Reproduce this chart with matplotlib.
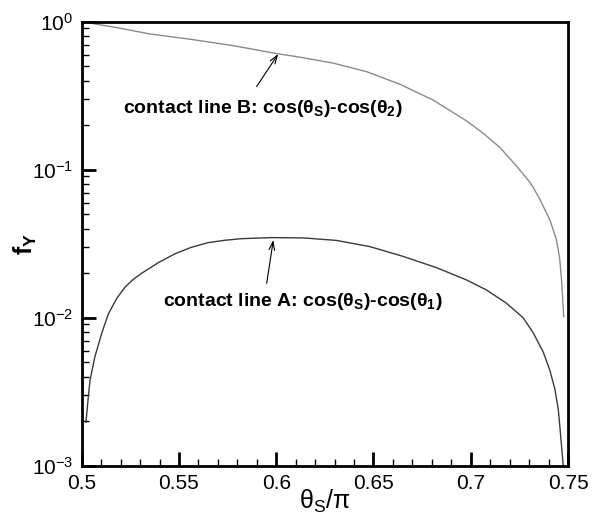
import matplotlib
matplotlib.use("Agg")
import matplotlib.pyplot as plt
import numpy as np
from matplotlib.ticker import FixedLocator, LogLocator, NullFormatter, FixedFormatter

plt.rcParams['font.family'] = ['Liberation Sans', 'DejaVu Sans']
plt.rcParams['mathtext.fontset'] = 'custom'
plt.rcParams['mathtext.rm'] = 'Liberation Sans'
plt.rcParams['mathtext.it'] = 'Liberation Sans:italic'
plt.rcParams['mathtext.bf'] = 'Liberation Sans:bold'

# Curve A: contact line A (x = theta_S/pi, log10 f_Y)
xA = [0.5022, 0.5034, 0.5043, 0.5068, 0.5103, 0.5137, 0.518, 0.5222, 0.5265, 0.5308,
      0.5394, 0.548, 0.5565, 0.565, 0.5736, 0.5822, 0.5976, 0.6139, 0.631, 0.6482,
      0.665, 0.6824, 0.6978, 0.7081, 0.7184, 0.7269, 0.732, 0.7372, 0.7406, 0.7432,
      0.745, 0.7461, 0.7475]
logA = [-2.707, -2.534, -2.421, -2.263, -2.105, -1.975, -1.87, -1.795, -1.741, -1.70,
        -1.628, -1.568, -1.524, -1.493, -1.477, -1.466, -1.459, -1.461, -1.478, -1.52,
        -1.585, -1.662, -1.745, -1.813, -1.903, -2.0, -2.1, -2.23, -2.353, -2.48,
        -2.62, -2.78, -2.995]
# Curve B: contact line B
xB = [0.5, 0.5179, 0.5351, 0.5565, 0.5779, 0.600, 0.6122, 0.6293, 0.6465, 0.6636,
      0.6807, 0.6978, 0.7064, 0.715, 0.7235, 0.7304, 0.7321, 0.7355, 0.7407, 0.7441,
      0.7457, 0.7467, 0.7478]
logB = [0.0, -0.04, -0.083, -0.12, -0.162, -0.215, -0.24, -0.28, -0.338, -0.423,
        -0.53, -0.67, -0.754, -0.85, -0.975, -1.085, -1.12, -1.2, -1.34, -1.475,
        -1.6, -1.75, -1.993]

yA = [10 ** v for v in logA]
yB = [10 ** v for v in logB]

xticks = [0.5, 0.55, 0.6, 0.65, 0.7, 0.75]
xticklabels = ['0.5', '0.55', '0.6', '0.65', '0.7', '0.75']
yticks = [1e-3, 1e-2, 1e-1, 1e0]
yticklabels = [r'$\mathregular{10^{-3}}$', r'$\mathregular{10^{-2}}$',
               r'$\mathregular{10^{-1}}$', r'$\mathregular{10^{0}}$']

fig = plt.figure(figsize=(5.92, 5.16), dpi=100)
ax = fig.add_axes([0.138, 0.0975, 0.8215, 0.8605])

ax.plot(xB, yB, color='#8a8a8a', lw=1.0)
ax.plot(xA, yA, color='#3a3a3a', lw=1.0)

ax.set_yscale('log')
ax.set_xlim(0.5, 0.75)
ax.set_ylim(1e-3, 1e0)

ax.xaxis.set_major_locator(FixedLocator(xticks))
ax.xaxis.set_major_formatter(FixedFormatter(xticklabels))
ax.xaxis.set_minor_locator(FixedLocator(np.arange(0.5, 0.7501, 0.01)))
ax.yaxis.set_major_locator(FixedLocator(yticks))
ax.yaxis.set_major_formatter(FixedFormatter(yticklabels))
ax.yaxis.set_minor_locator(LogLocator(base=10, subs=np.arange(2, 10)))
ax.yaxis.set_minor_formatter(NullFormatter())

ax.tick_params(which='both', direction='in', top=False, right=False, labelsize=15, pad=6)
ax.tick_params(which='major', length=10, width=2)
ax.tick_params(which='minor', length=5, width=1)
for s in ax.spines.values():
    s.set_linewidth(2)

ax.set_xlabel(r'$\mathregular{\theta_S/\pi}$', fontsize=18, labelpad=-4)
ax.set_ylabel(r'$\mathbf{f_Y}$', fontsize=18, va='center')
ax.yaxis.set_label_coords(-0.115, 0.5)

ax.text(0.5212, 0.26, 'contact line B: cos(' + r'$\mathregular{\theta_S}$' + ')-cos('
        + r'$\mathregular{\theta_2}$' + ')', fontsize=14, fontweight='bold',
        ha='left', va='center')
ax.text(0.5418, 0.0128, 'contact line A: cos(' + r'$\mathregular{\theta_S}$' + ')-cos('
        + r'$\mathregular{\theta_1}$' + ')', fontsize=14, fontweight='bold',
        ha='left', va='center')
ax.annotate('', xy=(0.601, 0.605), xytext=(0.5899, 0.364),
            arrowprops=dict(arrowstyle='->,head_length=0.6,head_width=0.2', color='black', lw=0.8,
                            shrinkA=0, shrinkB=0))
ax.annotate('', xy=(0.5985, 0.0335), xytext=(0.5951, 0.01707),
            arrowprops=dict(arrowstyle='->,head_length=0.6,head_width=0.2', color='black', lw=0.8,
                            shrinkA=0, shrinkB=0))

fig.savefig('out.png', dpi=100)
